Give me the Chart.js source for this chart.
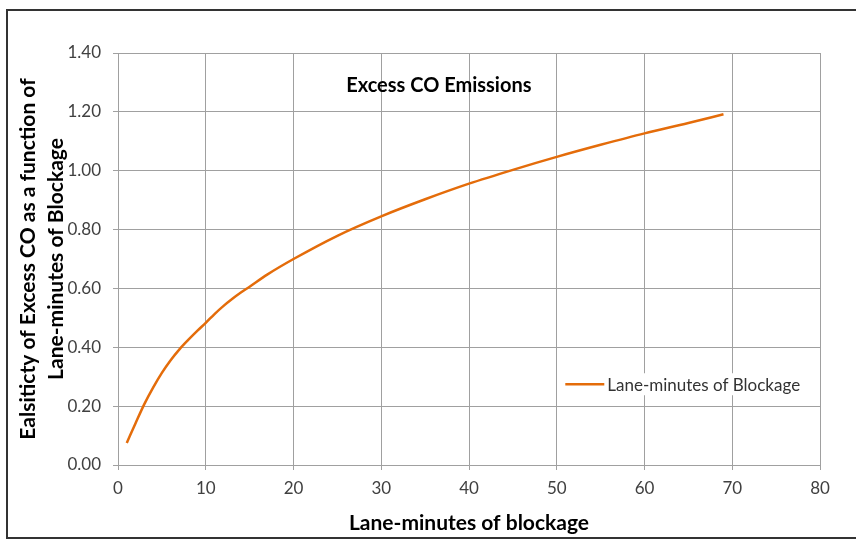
<!DOCTYPE html>
<html>
<head>
<meta charset="utf-8">
<script src="https://cdn.jsdelivr.net/npm/chart.js@4"></script>
<style>
  html, body { margin: 0; padding: 0; background: #fff; }
  #wrap { position: relative; width: 856px; height: 540px; }
</style>
</head>
<body>
<div id="wrap"><canvas id="chart" width="856" height="540"></canvas></div>
<script>
// values
const laneMinutes = [1, 2, 3, 4, 5, 6, 7, 8, 9, 10, 11, 12, 13, 14, 15, 17, 20, 25, 30, 35, 40, 45, 50, 55, 60, 65, 69];
const elasticity = [0.075, 0.142, 0.207, 0.263, 0.313, 0.356, 0.393, 0.425, 0.455, 0.483, 0.513, 0.54, 0.564, 0.586, 0.606, 0.647, 0.70, 0.779, 0.845, 0.903, 0.956, 1.003, 1.047, 1.088, 1.127, 1.162, 1.192];
const seriesName = 'Lane-minutes of Blockage';
const chartTitle = 'Excess CO Emissions';
const xTitle = 'Lane-minutes of blockage';
const yTitle = ['Ealsiticty of Excess CO as a function of', 'Lane-minutes of Blockage'];

const FONT = 'Lato, "Open Sans", sans-serif';
const ORANGE = '#E46C0A';
const GRID = '#a0a0a0';

// outer frame + inner title + legend drawn inside plot area
const decorations = {
  id: 'decorations',
  beforeDraw(chart) {
    const ctx = chart.ctx;
    ctx.save();
    ctx.fillStyle = '#fff';
    ctx.fillRect(0, 0, chart.width, chart.height);
    ctx.strokeStyle = '#333';
    ctx.lineWidth = 2;
    ctx.strokeRect(7, 10, chart.width + 10, chart.height - 12);
    ctx.restore();
  },
  afterDraw(chart) {
    const ctx = chart.ctx;
    const a = chart.chartArea;
    ctx.save();
    // title
    ctx.fillStyle = '#000';
    ctx.font = 'bold 20px ' + FONT;
    ctx.textAlign = 'center';
    ctx.textBaseline = 'middle';
    ctx.fillText(chartTitle, a.left + (a.right - a.left) * 0.457, a.top + 33);
    // legend
    ctx.font = '17px ' + FONT;
    const tx = a.left + (a.right - a.left) * 0.697;
    const ty = a.top + (a.bottom - a.top) * 0.804;
    const w = ctx.measureText(seriesName).width;
    ctx.fillStyle = '#fff';
    ctx.fillRect(tx - 44, ty - 11, w + 48, 22);
    ctx.strokeStyle = ORANGE;
    ctx.lineWidth = 2.5;
    ctx.beginPath();
    ctx.moveTo(tx - 42, ty);
    ctx.lineTo(tx - 3, ty);
    ctx.stroke();
    ctx.fillStyle = '#333';
    ctx.textAlign = 'left';
    ctx.fillText(seriesName, tx, ty + 1);
    ctx.restore();
  }
};

new Chart(document.getElementById('chart'), {
  type: 'scatter',
  data: {
    datasets: [{
      label: seriesName,
      data: laneMinutes.map((x, i) => ({ x: x, y: elasticity[i] })),
      showLine: true,
      borderColor: ORANGE,
      borderWidth: 2.5,
      pointRadius: 0,
      cubicInterpolationMode: 'monotone'
    }]
  },
  options: {
    responsive: false,
    animation: false,
    layout: { padding: { top: 53, right: 36, left: 14, bottom: 0 } },
    plugins: {
      legend: { display: false },
      tooltip: { enabled: false }
    },
    scales: {
      x: {
        type: 'linear',
        min: 0, max: 80,
        ticks: { stepSize: 10, color: '#404040', font: { family: FONT, size: 17 }, padding: 8 },
        grid: { color: GRID, tickLength: 5 },
        border: { color: GRID },
        title: { display: true, text: xTitle, color: '#000', font: { family: FONT, size: 21, weight: 'bold' }, padding: { top: 4 } },
        afterFit(s) { s.height = 75; }
      },
      y: {
        min: 0, max: 1.4,
        ticks: { stepSize: 0.2, color: '#404040', font: { family: FONT, size: 17 }, padding: 12,
          callback: v => v.toFixed(2) },
        grid: { color: GRID, tickLength: 5 },
        border: { color: GRID },
        title: { display: true, text: yTitle, color: '#000', font: { family: FONT, size: 21, weight: 'bold', lineHeight: 1.35 }, padding: { top: 0, bottom: 0 } },
        afterFit(s) { s.width = 104; }
      }
    }
  },
  plugins: [decorations]
});
</script>
</body>
</html>
